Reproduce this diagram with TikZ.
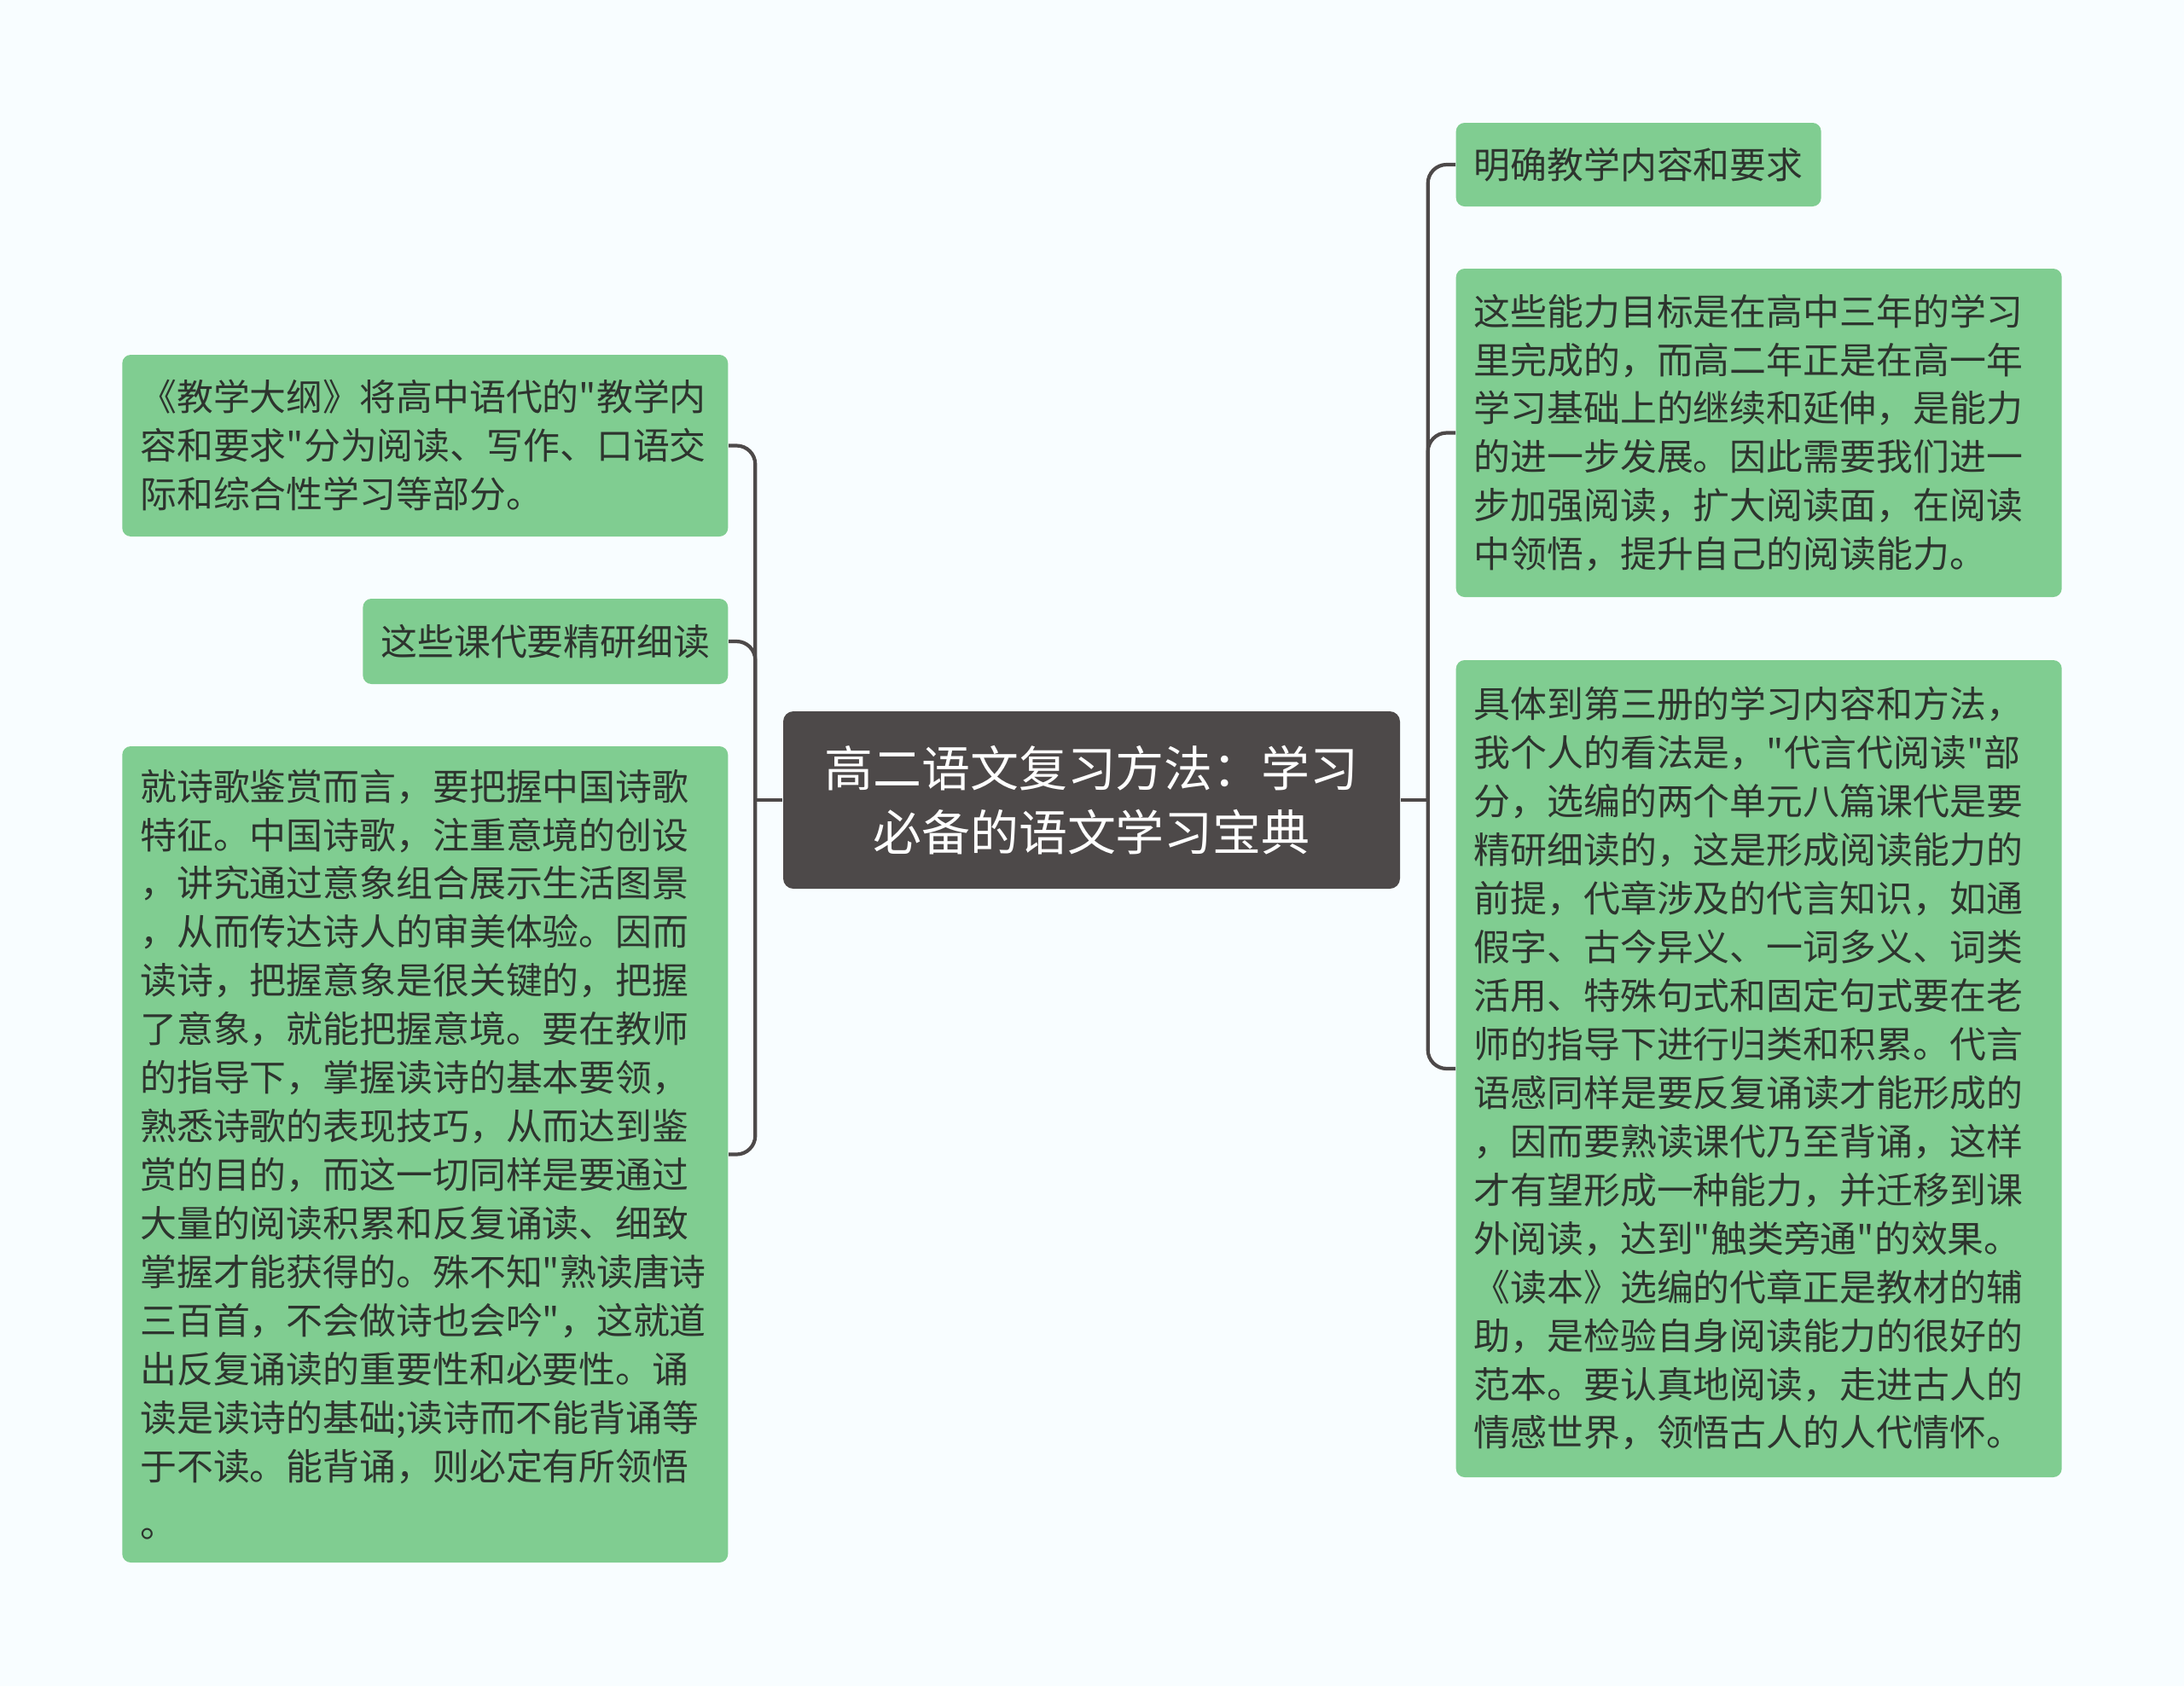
\documentclass[tikz,border=0pt]{standalone}
\usepackage{fontspec}
\setmainfont{Noto Sans CJK SC}[Ligatures=TeXOff]
\usetikzlibrary{positioning}

\definecolor{leafgreen}{RGB}{128,205,145}
\definecolor{rootgray}{RGB}{77,73,73}
\definecolor{linegray}{RGB}{77,73,73}
\definecolor{inkdark}{RGB}{45,52,46}
\definecolor{paper}{RGB}{248,253,255}

\begin{document}
\begin{tikzpicture}[
    leaf/.style={
        rectangle,
        rounded corners=0.1cm,
        fill=leafgreen,
        text=inkdark,
        align=left,
        font=\fontsize{12.2pt}{16.2pt}\selectfont,
        inner xsep=0.21cm,
        inner ysep=0.1cm,
    },
    leafwide/.style={leaf, text width=6.68cm}, % cajas con parrafo
    root/.style={
        rectangle,
        rounded corners=0.12cm,
        fill=rootgray,
        text=white,
        align=center,
        font=\fontsize{16.2pt}{21.3pt}\selectfont,
        minimum width=7.23cm,
        minimum height=2.08cm,
    },
    conn/.style={draw=linegray, line width=1.2pt, rounded corners=0.22cm}
]

% Fondo
\fill[paper] (0,0) rectangle (25.6,-19.77);
\useasboundingbox (0,0) rectangle (25.6,-19.77);

% Nodo central
\node[root] (center) at (12.795,-9.38) {高二语文复习方法：学习\\必备的语文学习宝典};

% Nodos derecha
\node[leaf, anchor=west, minimum height=0.98cm] (dest1) at (17.06,-1.93) {明确教学内容和要求};
\node[leafwide, anchor=west, minimum height=3.85cm] (dest2) at (17.06,-5.075) {这些能力目标是在高中三年的学习\\里完成的，而高二年正是在高一年\\学习基础上的继续和延伸，是能力\\的进一步发展。因此需要我们进一\\步加强阅读，扩大阅读面，在阅读\\中领悟，提升自己的阅读能力。};
\node[leafwide, anchor=west, minimum height=9.58cm] (dest3) at (17.06,-12.53) {具体到第三册的学习内容和方法，\\我个人的看法是，"代言代阅读"部\\分，选编的两个单元八篇课代是要\\精研细读的，这是形成阅读能力的\\前提，代章涉及的代言知识，如通\\假字、古今异义、一词多义、词类\\活用、特殊句式和固定句式要在老\\师的指导下进行归类和积累。代言\\语感同样是要反复诵读才能形成的\\，因而要熟读课代乃至背诵，这样\\才有望形成一种能力，并迁移到课\\外阅读，达到"触类旁通"的效果。\\《读本》选编的代章正是教材的辅\\助，是检验自身阅读能力的很好的\\范本。要认真地阅读，走进古人的\\情感世界，领悟古人的人代情怀。};

% Nodos izquierda
\node[leafwide, anchor=east, minimum height=2.13cm] (orig1) at (8.54,-5.225) {《教学大纲》将高中语代的"教学内\\容和要求"分为阅读、写作、口语交\\际和综合性学习等部分。};
\node[leaf, anchor=east, minimum height=1.0cm] (orig2) at (8.54,-7.52) {这些课代要精研细读};
\node[leafwide, anchor=east, minimum height=9.57cm] (orig3) at (8.54,-13.535) {就诗歌鉴赏而言，要把握中国诗歌\\特征。中国诗歌，注重意境的创设\\，讲究通过意象组合展示生活图景\\，从而传达诗人的审美体验。因而\\读诗，把握意象是很关键的，把握\\了意象，就能把握意境。要在教师\\的指导下，掌握读诗的基本要领，\\熟悉诗歌的表现技巧，从而达到鉴\\赏的目的，而这一切同样是要通过\\大量的阅读积累和反复诵读、细致\\掌握才能获得的。殊不知"熟读唐诗\\三百首，不会做诗也会吟"，这就道\\出反复诵读的重要性和必要性。诵\\读是读诗的基础;读诗而不能背诵等\\于不读。能背诵，则必定有所领悟\\[3pt]。};

% Puntos de union
\coordinate[right=0.32cm of center.east] (rjoin);
\coordinate[left=0.32cm of center.west] (ljoin);

% Conexiones
\draw[conn] (center.east) -- (rjoin);
\draw[conn] (rjoin) |- (dest1.west);
\draw[conn] (rjoin) |- (dest2.west);
\draw[conn] (rjoin) |- (dest3.west);

\draw[conn] (center.west) -- (ljoin);
\draw[conn] (ljoin) |- (orig1.east);
\draw[conn] (ljoin) |- (orig2.east);
\draw[conn] (ljoin) |- (orig3.east);

\end{tikzpicture}
\end{document}
